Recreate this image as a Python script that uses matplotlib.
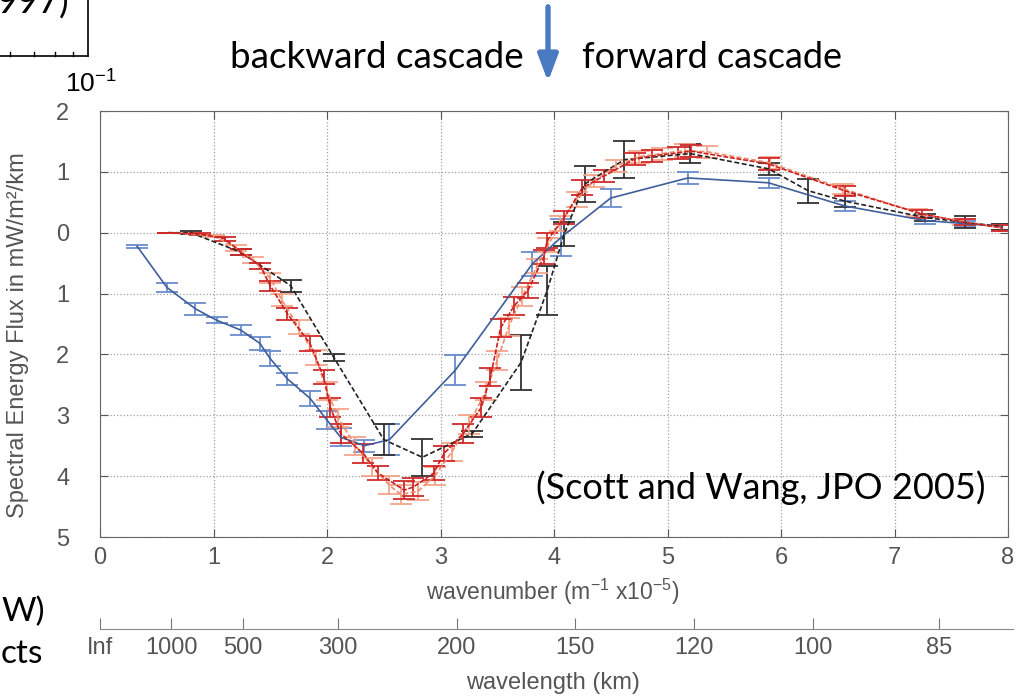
import numpy as np
import matplotlib.pyplot as plt

# ---- data ----
# wavenumber in m^-1 x 1e-5, flux in mW/m^2/km
blue_x = [0.33, 0.59, 0.84, 1.03, 1.24, 1.41, 1.50, 1.65, 1.85, 2.00, 2.12, 2.33, 2.55,
          3.13, 3.81, 4.06, 4.50, 5.18, 5.89, 6.56, 7.27, 7.62, 7.95]
blue_y = [-0.23, -0.90, -1.25, -1.44, -1.60, -1.82, -2.07, -2.40, -2.72, -3.08, -3.36, -3.50, -3.40,
          -2.26, -0.51, -0.08, 0.57, 0.90, 0.82, 0.44, 0.20, 0.15, 0.10]
blue_err = [0.02, 0.08, 0.10, 0.05, 0.08, 0.10, 0.12, 0.10, 0.12, 0.15, 0.15, 0.10, 0.25,
            0.25, 0.20, 0.30, 0.15, 0.10, 0.08, 0.08, 0.06, 0.05, 0.05]

black_x = [0.60, 0.80, 1.24, 1.68, 2.06, 2.50, 2.84, 3.28, 3.71, 3.94, 4.09, 4.27, 4.62,
           5.20, 5.89, 6.24, 6.56, 7.27, 7.62, 7.95]
black_y = [0.0, 0.0, -0.32, -0.87, -2.05, -3.40, -3.69, -3.30, -2.13, -0.95, -0.02, 0.80, 1.20,
           1.30, 1.05, 0.69, 0.52, 0.25, 0.17, 0.10]
black_err = [0.0, 0.02, 0.05, 0.10, 0.05, 0.25, 0.30, 0.05, 0.45, 0.40, 0.20, 0.30, 0.30,
             0.15, 0.10, 0.20, 0.10, 0.05, 0.10, 0.05]

red_x = [0.60, 0.88, 1.10, 1.24, 1.41, 1.50, 1.65, 1.85, 1.97, 2.03, 2.12, 2.32, 2.45, 2.68,
         2.76, 2.94, 3.03, 3.20, 3.36, 3.44, 3.53, 3.65, 3.77, 3.91, 3.94, 4.09, 4.25, 4.44,
         4.71, 4.86, 5.09, 5.21, 5.89, 6.56, 7.24, 7.62, 7.95]
red_y = [0.0, -0.02, -0.10, -0.32, -0.54, -0.87, -1.33, -1.82, -2.37, -2.87, -3.30, -3.63,
         -3.95, -4.23, -4.18, -3.95, -3.63, -3.30, -2.87, -2.37, -1.56, -1.20, -0.95, -0.40,
         -0.13, 0.25, 0.74, 0.93, 1.21, 1.26, 1.31, 1.34, 1.13, 0.69, 0.31, 0.17, 0.08]
red_err = [0.0, 0.02, 0.03, 0.05, 0.05, 0.08, 0.10, 0.12, 0.12, 0.15, 0.15, 0.15, 0.12, 0.15,
           0.15, 0.12, 0.12, 0.15, 0.15, 0.15, 0.15, 0.15, 0.12, 0.12, 0.12, 0.10, 0.12, 0.10,
           0.10, 0.10, 0.10, 0.10, 0.10, 0.08, 0.06, 0.05, 0.05]

orange_x = [0.60, 1.00, 1.20, 1.35, 1.50, 1.60, 1.75, 1.90, 2.00, 2.10, 2.25, 2.40, 2.55, 2.65,
            2.80, 2.95, 3.10, 3.25, 3.40, 3.50, 3.60, 3.72, 3.85, 3.95, 4.05, 4.20, 4.35, 4.55,
            4.75, 4.95, 5.15, 5.35, 5.90, 6.55, 7.20, 7.60, 7.95]
orange_y = [0.0, -0.05, -0.25, -0.45, -0.75, -1.10, -1.55, -2.05, -2.60, -3.05, -3.50, -3.85,
            -4.15, -4.30, -4.25, -4.00, -3.60, -3.15, -2.60, -2.10, -1.55, -1.05, -0.55, -0.20,
            0.15, 0.55, 0.85, 1.10, 1.25, 1.30, 1.35, 1.33, 1.15, 0.72, 0.33, 0.18, 0.08]
orange_err = [0.0, 0.02, 0.05, 0.05, 0.08, 0.10, 0.12, 0.12, 0.15, 0.15, 0.15, 0.15, 0.15, 0.15,
              0.15, 0.15, 0.15, 0.15, 0.15, 0.15, 0.15, 0.15, 0.12, 0.12, 0.12, 0.12, 0.10, 0.10,
              0.10, 0.10, 0.10, 0.10, 0.10, 0.08, 0.06, 0.05, 0.05]

y_ticks = [2, 1, 0, -1, -2, -3, -4, -5]
y_ticklabels = ['2', '1', '0', '1', '2', '3', '4', '5']
wavelengths_km = [1000, 500, 300, 200, 150, 120, 100, 85]

W, H = 1019, 697
fig = plt.figure(figsize=(W / 100, H / 100), dpi=100)
plt.rcParams['font.family'] = ['Liberation Sans', 'DejaVu Sans']
gray = '#555555'
slide_font = ['Lato', 'DejaVu Sans']

# main panel
ax = fig.add_axes([100 / W, 1 - 537 / H, 908 / W, 426 / H])
ax.set_xlim(0, 8)
ax.set_ylim(-5, 2)
ax.set_xticks(range(9))
ax.set_yticks(y_ticks)
ax.set_yticklabels(y_ticklabels)
ax.grid(True, linestyle=':', color='#a0a0a0', linewidth=0.9)
ax.tick_params(direction='in', length=6, top=True, right=True, colors=gray,
               labelsize=17, labelcolor=gray)
ax.tick_params(axis='y', pad=22)
ax.tick_params(axis='x', pad=7)
for s in ax.spines.values():
    s.set_color('#666666')

series = [
    (blue_x, blue_y, blue_err, '#3f5f9a', '-', '#6a8ccc'),
    (black_x, black_y, black_err, '#222222', (0, (3, 1.5)), '#333333'),
    (orange_x, orange_y, orange_err, '#f08a6a', (0, (3, 1.5)), '#f4a58a'),
    (red_x, red_y, red_err, '#cc1f1f', (0, (3, 1)), '#d02a2a'),
]
for xs, ys, es, c, ls, ec in series:
    ax.errorbar(xs, ys, yerr=es, color=c, linestyle=ls, linewidth=1.2,
                ecolor=ec, elinewidth=1.3, capsize=8, capthick=1.3)

# wavelength axis below
ax2 = fig.add_axes([100 / W, 1 - 629 / H, 913 / W, 0.0001])
ax2.set_xlim(0, 913 / 113.5)
ax2.set_yticks([])
for k in ['top', 'left', 'right']:
    ax2.spines[k].set_visible(False)
ax2.spines['bottom'].set_color('#8a8a8a')
ax2.set_xticks([0] + [200 * np.pi / l for l in wavelengths_km])
ax2.set_xticklabels(['Inf'] + [str(l) for l in wavelengths_km])
ax2.tick_params(direction='in', length=8, colors='#777777', labelsize=17,
                labelcolor=gray, pad=6)
ax2.patch.set_alpha(0)

fig.text(553 / W, 1 - 592 / H,
         r'wavenumber (m$^{\mathregular{-1}}$ x10$^{\mathregular{-5}}$)',
         ha='center', va='center', fontsize=16.5, color=gray)
fig.text(553 / W, 1 - 683 / H, 'wavelength (km)', ha='center', va='center',
         fontsize=17, color=gray)
fig.text(18 / W, 1 - 335 / H, 'Spectral Energy Flux in mW/m²/km', rotation=90,
         ha='center', va='center', fontsize=17, color=gray)

# slide annotations
fig.text(377 / W, 1 - 57 / H, 'backward cascade', ha='center', va='center',
         fontsize=26.5, family=slide_font, color='black')
fig.text(712 / W, 1 - 57 / H, 'forward cascade', ha='center', va='center',
         fontsize=26, family=slide_font, color='black')
fig.text(761 / W, 1 - 488 / H, '(Scott and Wang, JPO 2005)', ha='center', va='center',
         fontsize=26, family=slide_font, color='black')
fig.text(1 / W, 1 - 612 / H, 'W)', ha='left', va='center', fontsize=24,
         family=slide_font, color='black')
fig.text(1 / W, 1 - 654 / H, 'cts', ha='left', va='center', fontsize=24,
         family=slide_font, color='black')
fig.text(-4 / W, 1 - 14 / H, '997)', ha='left', va='baseline', fontsize=26,
         family=slide_font, color='black')
fig.text(91 / W, 1 - 84 / H, r'$\mathregular{10^{-1}}$', ha='center', va='center',
         fontsize=19, color='black')
fig.add_artist(plt.Line2D([0, 88 / W], [1 - 56 / H, 1 - 56 / H], color='black', lw=1.2))
fig.add_artist(plt.Line2D([88 / W, 88 / W], [1 - 56 / H, 1.0], color='black', lw=1.2))

fig.add_artist(plt.Line2D([10 / W] * 2, [1 - 56 / H, 1 - 52 / H], color='black', lw=1))
fig.add_artist(plt.Line2D([34 / W] * 2, [1 - 56 / H, 1 - 52 / H], color='black', lw=1))
fig.add_artist(plt.Line2D([55 / W] * 2, [1 - 56 / H, 1 - 52 / H], color='black', lw=1))
fig.add_artist(plt.Line2D([73 / W] * 2, [1 - 56 / H, 1 - 52 / H], color='black', lw=1))

# blue arrow at the transition
fig.add_artist(plt.annotate('', xy=(548 / W, 1 - 84 / H), xytext=(548 / W, 1 - 4 / H),
                            xycoords='figure fraction', textcoords='figure fraction',
                            arrowprops=dict(arrowstyle='-|>,head_width=0.3,head_length=0.8',
                                            color='#4a7bc0', lw=3.5, mutation_scale=20)))

fig.savefig('out.png', dpi=100, facecolor='white')
